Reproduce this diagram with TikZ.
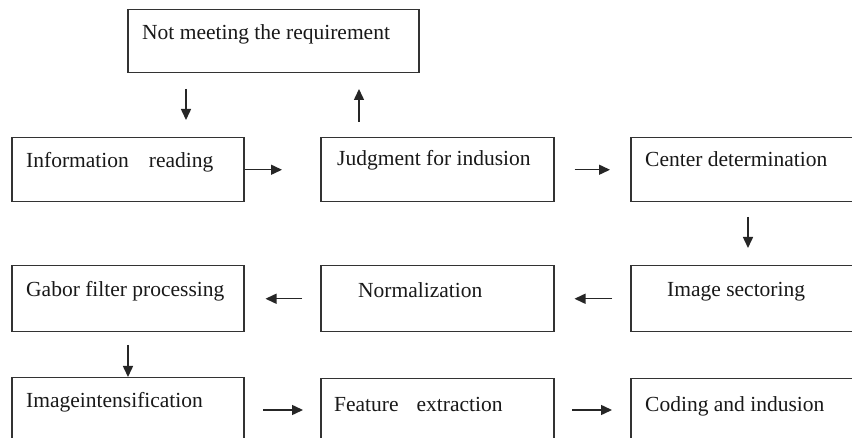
\documentclass[tikz,border=0pt]{standalone}
\usepackage{fontspec}
\setmainfont{Liberation Serif}
\usetikzlibrary{arrows.meta}
\tikzset{
  box/.style={draw=black!80, line width=1.5pt, anchor=north west, inner sep=0pt, fill=white},
  lbl/.style={anchor=base west, inner sep=0pt, font=\fontsize{21.5}{25}\selectfont, text=black!90},
  arr/.style={draw=black!85, line width=1.5pt, -{Triangle[length=11pt,width=10pt]}}
}
\begin{document}
\begin{tikzpicture}[x=1pt,y=-1pt]
\clip (0,0) rectangle (852,438);
\fill[white] (0,0) rectangle (852,438);
% boxes
\node[box, minimum width=291pt, minimum height=63pt] (top) at (127,9) {};
\node[box, minimum width=232pt, minimum height=64pt] (info) at (11,137) {};
\node[box, minimum width=233pt, minimum height=64pt] (judg) at (320,137) {};
\node[box, minimum width=240pt, minimum height=64pt] (cent) at (630,137) {};
\node[box, minimum width=232pt, minimum height=66pt] (gabor) at (11,265) {};
\node[box, minimum width=233pt, minimum height=66pt] (norm) at (320,265) {};
\node[box, minimum width=240pt, minimum height=66pt] (sect) at (630,265) {};
\node[box, minimum width=232pt, minimum height=70pt] (intens) at (11,377) {};
\node[box, minimum width=233pt, minimum height=70pt] (feat) at (320,378) {};
\node[box, minimum width=240pt, minimum height=70pt] (coding) at (630,378) {};
% texts
\node[lbl] (ttop) at (142,40) {Not meeting the requirement};
\node[lbl] (tinfo) at (26,168) {Information\hspace{20pt}reading};
\node[lbl] (tjudg) at (337,166) {Judgment for indusion};
\node[lbl] (tcent) at (645,167) {Center determination};
\node[lbl] (tgabor) at (26,297) {Gabor filter processing};
\node[lbl] (tnorm) at (358,298) {Normalization};
\node[lbl] (tsect) at (667,297) {Image sectoring};
\node[lbl] (tintens) at (26,408) {Imageintensification};
\node[lbl] (tfeat) at (334,411) {Feature\hspace{18pt}extraction};
\node[lbl] (tcoding) at (645,411) {Coding and indusion};
% connector coordinates
\coordinate (c1) at (186,72);
\coordinate (c2) at (359,72);
\coordinate (c3) at (748,201);
\coordinate (c4) at (128,331);
\coordinate (r3a) at (243,410);
\coordinate (r3b) at (320,410);
\coordinate (r3c) at (553,410);
\coordinate (r3d) at (630,410);
% arrows
\draw[arr, shorten <=17pt, shorten >=17pt] (c1) -- (c1 |- info.north);
\draw[arr, shorten <=15pt, shorten >=17pt] (c2 |- judg.north) -- (c2);
\draw[arr, shorten >=38pt] (info.east) -- (info.east -| judg.west);
\draw[arr, shorten <=20pt, shorten >=20pt] (judg.east) -- (cent.west);
\draw[arr, shorten <=16pt, shorten >=17pt] (c3) -- (c3 |- sect.north);
\draw[arr, shorten <=18pt, shorten >=20pt] (sect.west) -- (norm.east);
\draw[arr, shorten <=18pt, shorten >=21pt] (norm.west) -- (gabor.east);
\draw[arr, shorten <=14pt] (c4) -- (c4 |- intens.north);
\draw[arr, shorten <=20pt, shorten >=17pt] (r3a) -- (r3b);
\draw[arr, shorten <=19pt, shorten >=18pt] (r3c) -- (r3d);
\end{tikzpicture}
\end{document}
